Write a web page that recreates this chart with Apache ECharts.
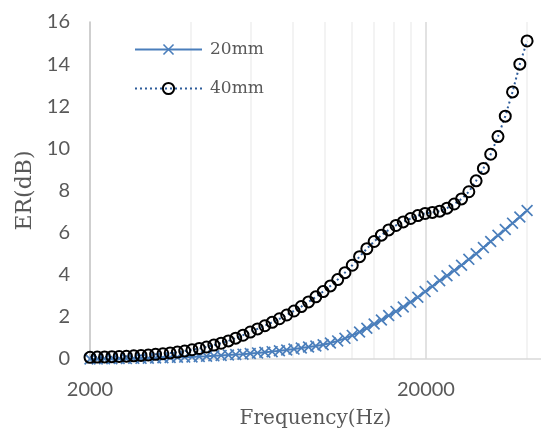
<!DOCTYPE html>
<html>
<head>
<meta charset="utf-8">
<script src="https://cdn.jsdelivr.net/npm/echarts@6/dist/echarts.min.js"></script>
<style>
html,body{margin:0;padding:0;background:#fff;}
#chart{width:541px;height:434px;}
</style>
</head>
<body>
<div id="chart"></div>
<script>
// ---- data ----
const freqHz = [2000,2102,2210,2323,2442,2567,2699,2837,2982,3135,
  3296,3464,3642,3828,4024,4229,4446,4674,4913,5165,
  5429,5707,5999,6306,6629,6969,7326,7701,8095,8510,
  8944,9402,9884,10390,10922,11481,12069,12688,13337,14020,
  14736,15491,16284,17118,17995,18915,19883,20902,21972,23097,
  24280,25524,26831,28205,29649,31168,32764,34442,36205,38059,
  40000];
const er20mm = [0.00,0.00,0.01,0.01,0.02,0.02,0.03,0.03,0.04,0.05,
  0.06,0.07,0.08,0.09,0.10,0.12,0.13,0.15,0.17,0.19,
  0.21,0.23,0.26,0.29,0.32,0.35,0.39,0.43,0.47,0.52,
  0.57,0.62,0.68,0.76,0.86,0.98,1.12,1.28,1.46,1.66,
  1.85,2.06,2.26,2.47,2.70,2.93,3.20,3.45,3.72,3.95,
  4.20,4.45,4.73,5.00,5.29,5.58,5.87,6.15,6.45,6.74,
  7.05];
const er40mm = [0.08,0.09,0.10,0.11,0.12,0.13,0.15,0.17,0.19,0.22,
  0.25,0.29,0.33,0.38,0.44,0.50,0.57,0.66,0.75,0.86,
  0.99,1.13,1.28,1.43,1.58,1.74,1.91,2.09,2.28,2.49,
  2.71,2.95,3.20,3.47,3.77,4.10,4.45,4.86,5.24,5.58,
  5.88,6.13,6.34,6.51,6.67,6.81,6.91,6.96,7.02,7.16,
  7.36,7.60,7.94,8.46,9.05,9.72,10.56,11.53,12.68,14.00,
  15.10];
const xTickLabels = [2000, 20000];          // labelled frequencies
const minorGridHz = [4000,6000,8000,10000,12000,14000,16000,18000,40000];
const majorGridHz = [20000];
const xRangeHz = [2000, 44000];
const yTicks = [0, 16, 2];                  // min, max, interval
const seriesNames = ['20mm', '40mm'];

// ---- build ----
const F0 = xRangeHz[0];
const lx = f => Math.log10(f / F0);         // decades above 2000 Hz
const d20 = freqHz.map((f, i) => [lx(f), er20mm[i]]);
const d40 = freqHz.map((f, i) => [lx(f), er40mm[i]]);
const crossPath = 'path://M0,1L1,0L5,4L9,0L10,1L6,5L10,9L9,10L5,6L1,10L0,9L4,5Z';

const chart = echarts.init(document.getElementById('chart'), null, {renderer: 'canvas'});
const xCommon = {
  type: 'value', min: lx(xRangeHz[0]), max: lx(xRangeHz[1]),
};
chart.setOption({
  backgroundColor: '#ffffff',
  animation: false,
  grid: {left: 90, right: 0, top: 22, bottom: 73, containLabel: false},
  legend: {
    data: seriesNames,
    orient: 'vertical',
    left: 129, top: 36,
    itemWidth: 67, itemHeight: 14, itemGap: 22,
    textStyle: {fontFamily: 'DejaVu Serif', fontSize: 17, color: '#595959', padding: [0,0,0,3]}
  },
  xAxis: [
    Object.assign({}, xCommon, {
      position: 'bottom',
      name: 'Frequency(Hz)', nameLocation: 'middle', nameGap: 50,
      nameTextStyle: {fontFamily: 'DejaVu Serif', fontSize: 20, color: '#595959'},
      axisLine: {show: true, lineStyle: {color: '#d9d9d9', width: 1.5}},
      axisTick: {show: false, customValues: minorGridHz.map(lx)},
      splitLine: {show: true, customValues: minorGridHz.map(lx), lineStyle: {color: '#efefef', width: 1.5}},
      axisLabel: {
        customValues: xTickLabels.map(lx),
        formatter: v => String(Math.round(F0 * Math.pow(10, v))),
        margin: 21, fontFamily: 'Lato', fontSize: 20, color: '#595959'
      }
    }),
    Object.assign({}, xCommon, {
      position: 'bottom',
      axisLine: {show: false},
      axisTick: {show: false, customValues: majorGridHz.map(lx)},
      splitLine: {show: true, customValues: majorGridHz.map(lx), lineStyle: {color: '#d9d9d9', width: 1.5}},
      axisLabel: {show: false}
    })
  ],
  yAxis: {
    type: 'value', min: yTicks[0], max: yTicks[1], interval: yTicks[2],
    name: 'ER(dB)', nameLocation: 'middle', nameGap: 50,
    nameTextStyle: {fontFamily: 'DejaVu Serif', fontSize: 22, color: '#595959'},
    axisLine: {show: true, lineStyle: {color: '#bfbfbf', width: 1.5}},
    axisTick: {show: false},
    splitLine: {show: false},
    axisLabel: {margin: 20, fontFamily: 'Lato', fontSize: 20, color: '#595959'}
  },
  series: [
    {
      name: seriesNames[0], type: 'line', data: d20, xAxisIndex: 0,
      symbol: crossPath, symbolSize: 12, showAllSymbol: true,
      lineStyle: {color: '#4a7ebb', width: 2},
      itemStyle: {color: '#4a7ebb'},
      clip: false
    },
    {
      name: seriesNames[1], type: 'line', data: d40, xAxisIndex: 0,
      symbol: 'circle', symbolSize: 11, showAllSymbol: true,
      lineStyle: {color: '#2e5c9a', width: 2, type: [2, 3]},
      itemStyle: {color: 'rgba(255,255,255,0)', borderColor: '#000000', borderWidth: 2},
      clip: false
    }
  ]
});
</script>
</body>
</html>
